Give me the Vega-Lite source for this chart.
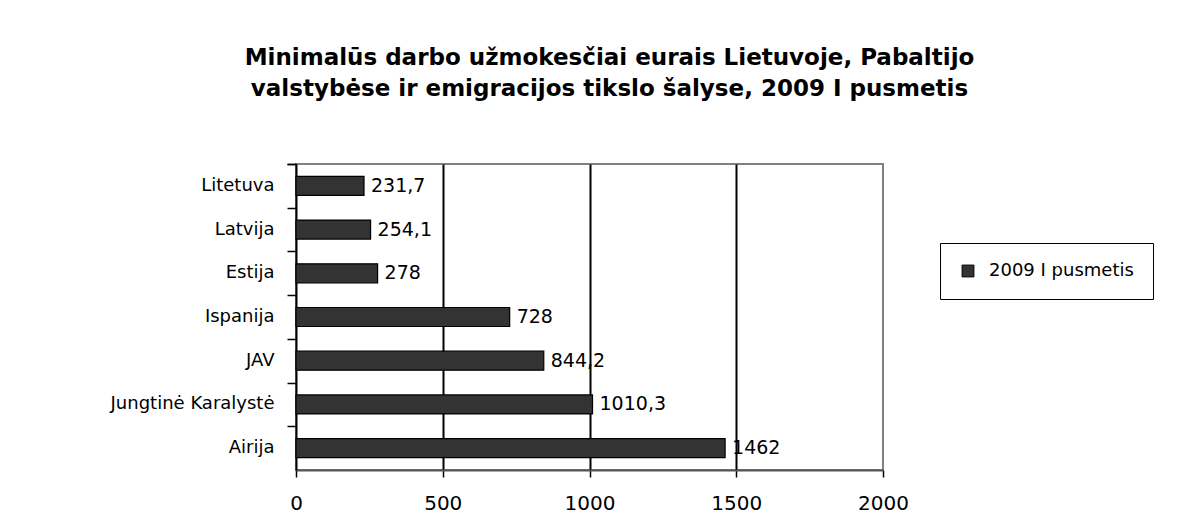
{
  "$schema": "https://vega.github.io/schema/vega-lite/v6.json",
  "width": 587,
  "height": 306,
  "autosize": {"type": "none"},
  "padding": {"left": 296, "top": 164, "right": 318, "bottom": 43},
  "background": "white",
  "title": {
    "text": ["Minimalūs darbo užmokesčiai eurais Lietuvoje, Pabaltijo", "valstybėse ir emigracijos tikslo šalyse, 2009 I pusmetis"],
    "font": "DejaVu Sans",
    "fontSize": 23,
    "fontWeight": "bold",
    "color": "black",
    "anchor": "middle",
    "frame": "group",
    "dx": 20,
    "offset": 62,
    "lineHeight": 31
  },
  "data": {
    "values": [
      {"country": "Litetuva", "value": 231.7, "label": "231,7", "series": "2009 I pusmetis"},
      {"country": "Latvija", "value": 254.1, "label": "254,1", "series": "2009 I pusmetis"},
      {"country": "Estija", "value": 278, "label": "278", "series": "2009 I pusmetis"},
      {"country": "Ispanija", "value": 728, "label": "728", "series": "2009 I pusmetis"},
      {"country": "JAV", "value": 844.2, "label": "844,2", "series": "2009 I pusmetis"},
      {"country": "Jungtinė Karalystė", "value": 1010.3, "label": "1010,3", "series": "2009 I pusmetis"},
      {"country": "Airija", "value": 1462, "label": "1462", "series": "2009 I pusmetis"}
    ]
  },
  "layer": [
    {
      "mark": {"type": "bar", "stroke": "black", "strokeWidth": 1.2},
      "encoding": {
        "y": {
          "field": "country",
          "type": "nominal",
          "sort": null,
          "title": null,
          "scale": {"paddingInner": 0.565, "paddingOuter": 0.2825},
          "axis": {
            "orient": "left",
            "labels": false,
            "bandPosition": 0,
            "tickExtra": true,
            "tickOffset": -12.35,
            "domainColor": "black",
            "domainWidth": 2,
            "tickColor": "black",
            "tickWidth": 1.5,
            "tickSize": 9,
            "grid": false
          }
        },
        "x": {
          "field": "value",
          "type": "quantitative",
          "title": null,
          "scale": {"domain": [0, 2000], "nice": false},
          "axis": {
            "values": [0, 500, 1000, 1500, 2000],
            "format": "d",
            "domainColor": "#555555",
            "domainWidth": 2,
            "tickColor": "black",
            "tickWidth": 1.5,
            "tickSize": 7,
            "labelPadding": 16,
            "labelFont": "DejaVu Sans",
            "labelFontSize": 20,
            "labelColor": "black",
            "labelFlush": false,
            "grid": true,
            "gridColor": "black",
            "gridWidth": 2,
            "gridOpacity": {"condition": {"test": "datum.value == 0 || datum.value == 2000", "value": 0}, "value": 1}
          }
        },
        "color": {
          "field": "series",
          "type": "nominal",
          "scale": {"range": ["#333333"]},
          "legend": {
            "title": null,
            "orient": "none",
            "legendX": 644,
            "legendY": 79,
            "strokeColor": "black",
            "fillColor": "white",
            "padding": 19,
            "symbolType": "square",
            "symbolSize": 140,
            "symbolStrokeColor": "black",
            "symbolStrokeWidth": 1,
            "labelFont": "DejaVu Sans",
            "labelFontSize": 18,
            "labelColor": "black",
            "labelOffset": 12
          }
        }
      }
    },
    {
      "mark": {"type": "text", "align": "left", "baseline": "middle", "dx": 7, "font": "DejaVu Sans", "fontSize": 19, "color": "black"},
      "encoding": {
        "y": {
          "field": "country",
          "type": "nominal",
          "sort": null,
          "title": null,
          "axis": {
            "orient": "left",
            "domain": false,
            "ticks": false,
            "labelPadding": 22,
            "labelFont": "DejaVu Sans",
            "labelFontSize": 18,
            "labelColor": "black",
            "grid": false
          }
        },
        "x": {"field": "value", "type": "quantitative"},
        "text": {"field": "label"}
      }
    }
  ],
  "resolve": {"axis": {"y": "independent"}},
  "config": {
    "view": {"stroke": "#808080", "strokeWidth": 2}
  }
}
